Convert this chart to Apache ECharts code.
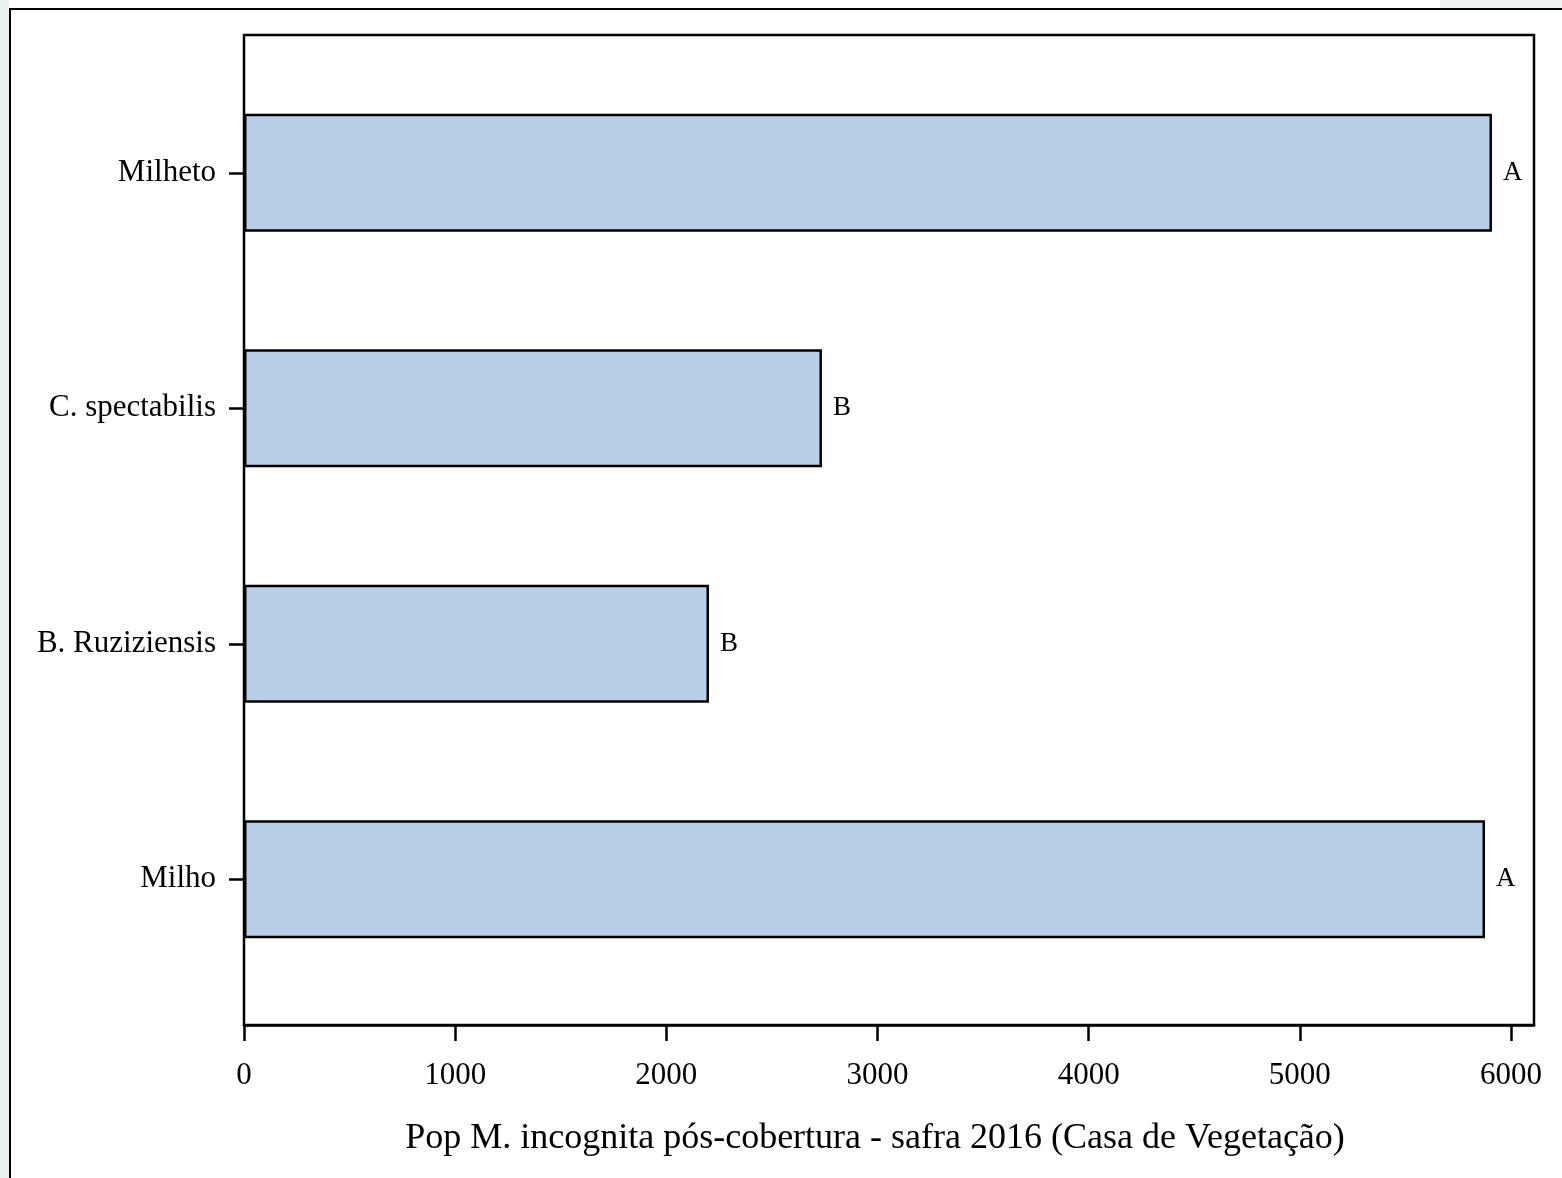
<!DOCTYPE html>
<html>
<head>
<meta charset="utf-8">
<script src="https://cdn.jsdelivr.net/npm/echarts@6/dist/echarts.min.js"></script>
<style>
html,body{margin:0;padding:0;background:#fff;}
#chart{width:1562px;height:1178px;}
</style>
</head>
<body>
<div id="chart"></div>
<script>
// Data (bottom to top)
const categories = ['Milho', 'B. Ruziziensis', 'C. spectabilis', 'Milheto'];
const values = [5877, 2202, 2737, 5910];
const letters = ['A', 'B', 'B', 'A'];
const xTicks = [0, 1000, 2000, 3000, 4000, 5000, 6000];
const xMax = 6109;
const xTitle = 'Pop M. incognita pós-cobertura - safra 2016 (Casa de Vegetação)';

const FONT = '"Liberation Serif", "Times New Roman", serif';

const chart = echarts.init(document.getElementById('chart'), null, {renderer: 'canvas'});
chart.setOption({
  backgroundColor: '#ffffff',
  animation: false,
  graphic: [
    {type: 'rect', shape: {x: 0, y: 0, width: 9, height: 1178}, style: {fill: '#e9f2ef'}, z: -10},
    {type: 'rect', shape: {x: 1440, y: 0, width: 122, height: 8}, style: {fill: '#eef5f2'}, z: -10},
    {type: 'polyline', shape: {points: [[10, 1178], [10, 9], [1562, 9]]}, style: {stroke: '#000', lineWidth: 2, fill: null}, z: 10}
  ],
  grid: [
    {left: 244, right: 28, top: 55, bottom: 181, containLabel: false},
    {left: 244, right: 28, top: 35, bottom: 153, show: true, borderColor: '#000', borderWidth: 2.5, backgroundColor: 'transparent'}
  ],
  xAxis: [
    {gridIndex: 0, type: 'value', min: 0, max: xMax, show: false},
    {
      gridIndex: 1, type: 'value', min: 0, max: xMax,
      axisLine: {show: true, lineStyle: {color: '#000', width: 2.5}},
      axisTick: {show: true, length: 16, lineStyle: {color: '#000', width: 2.5}, customValues: xTicks},
      axisLabel: {color: '#000', fontFamily: FONT, fontSize: 31, margin: 35, customValues: xTicks,
                  formatter: v => String(v)},
      splitLine: {show: false},
      name: xTitle, nameLocation: 'middle', nameGap: 96,
      nameTextStyle: {color: '#000', fontFamily: FONT, fontSize: 36, padding: [0, 28, 0, 0]}
    }
  ],
  yAxis: [
    {
      gridIndex: 0, type: 'category', data: categories,
      axisLine: {show: false},
      axisTick: {show: true, alignWithLabel: true, length: 15, lineStyle: {color: '#000', width: 2.5}},
      axisLabel: {color: '#000', fontFamily: FONT, fontSize: 31, margin: 28},
      splitLine: {show: false}
    },
    {gridIndex: 1, type: 'value', min: 0, max: 1, show: false}
  ],
  series: [{
    type: 'bar',
    xAxisIndex: 0, yAxisIndex: 0,
    data: values,
    barWidth: 118,
    itemStyle: {color: '#b9cfe7', borderColor: '#000', borderWidth: 2.5},
    label: {
      show: true, position: 'right', distance: 11,
      formatter: p => letters[p.dataIndex],
      color: '#000', fontFamily: FONT, fontSize: 27
    }
  }]
});
</script>
</body>
</html>
